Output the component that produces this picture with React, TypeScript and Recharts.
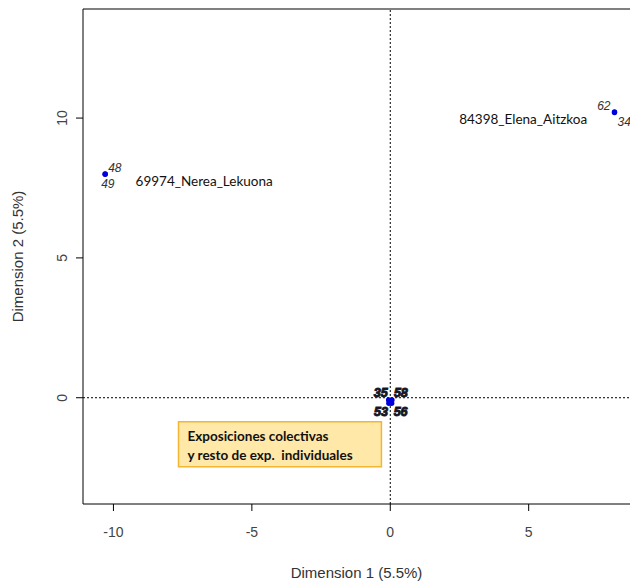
import {
  ScatterChart,
  Scatter,
  XAxis,
  YAxis,
  ReferenceLine,
  ReferenceArea,
  ReferenceDot,
} from "recharts";

// MCA individuals plot (factor map)
const pointIds = ["48", "49", "62", "34", "35", "58", "53", "56", "", ""];
const dim1 = [-10.3, -10.3, 8.1, 8.1, -0.06, 0.06, -0.05, 0.05, 0.0, 0.02];
const dim2 = [8.0, 7.99, 10.22, 10.2, -0.08, -0.08, -0.2, -0.2, -0.14, -0.1];

const xTicks = [-10, -5, 0, 5];
const yTicks = [0, 5, 10];
const xDomain = [-11.1, 8.66];
const yDomain = [-3.8, 13.9];

const artistNames = ["84398_Elena_Aitzkoa", "69974_Nerea_Lekuona"];
const artistX = [2.49, -9.2];
const artistY = [9.97, 7.76];

const boxLines = ["Exposiciones colectivas", "y resto de exp.  individuales"];
const boxX = [-7.65, -0.32];
const boxY = [-0.86, -2.47];

// label placement per point id: [dx, dy, anchor, cluster]
const labelStyle: Record<string, [number, number, string, boolean]> = {
  "48": [3, -2, "start", false],
  "49": [-4, 14, "start", false],
  "62": [-4, -2, "end", false],
  "34": [3, 14, "start", false],
  "35": [-1, -3, "end", true],
  "58": [2, -3, "start", true],
  "53": [-1, 13, "end", true],
  "56": [2, 13, "start", true],
};

const data = pointIds.map((id, i) => ({ id, x: dim1[i], y: dim2[i] }));

const PointShape = (props: any) => {
  const { cx, cy, payload } = props;
  const st = labelStyle[payload.id];
  return (
    <g>
      <circle cx={cx} cy={cy} r={2.7} fill="#0000dd" />
      {st && (
        <text
          x={cx + st[0]}
          y={cy + st[1]}
          textAnchor={st[2] as any}
          fontFamily="Liberation Sans, Arial, sans-serif"
          fontSize={st[3] ? 12.5 : 12}
          fontStyle="italic"
          fontWeight={st[3] ? "bold" : "normal"}
          fill={st[3] ? "#111" : "#333"}
          stroke={st[3] ? "#1a1a2a" : "none"}
          strokeWidth={st[3] ? 1 : 0}
        >
          {payload.id}
        </text>
      )}
    </g>
  );
};

const YTick = (props: any) => {
  const { x, y, payload } = props;
  return (
    <text
      x={x}
      y={y}
      transform={`rotate(-90 ${x} ${y})`}
      textAnchor="middle"
      fontFamily="Liberation Sans, Arial, sans-serif"
      fontSize={14}
      fill="#444"
    >
      {payload.value}
    </text>
  );
};

const YTitle = (props: any) => {
  const vb = props.viewBox;
  const cx = 23;
  const cy = vb.y + vb.height / 2;
  return (
    <text
      x={cx}
      y={cy}
      transform={`rotate(-90 ${cx} ${cy})`}
      textAnchor="middle"
      fontFamily="Liberation Sans, Arial, sans-serif"
      fontSize={15}
      fill="#333"
    >
      Dimension 2 (5.5%)
    </text>
  );
};

const BoxLabel = (props: any) => {
  const vb = props.viewBox;
  return (
    <text fontFamily="Lato, sans-serif" fontSize={13.5} fontWeight="bold" fill="#111">
      {boxLines.map((t, i) => (
        <tspan key={i} x={vb.x + 9} y={vb.y + 19 + i * 19} style={{ whiteSpace: "pre" }}>
          {t}
        </tspan>
      ))}
    </text>
  );
};

export default function App() {
  return (
    <div style={{ position: "absolute", left: 0, top: 0, width: 630, height: 584, background: "#fff" }}>
      <ScatterChart width={630} height={584} margin={{ top: 9, right: 0, bottom: 0, left: 0 }}>
        <XAxis
          type="number"
          dataKey="x"
          domain={xDomain}
          ticks={xTicks}
          allowDataOverflow
          height={80}
          tickSize={7}
          tickMargin={16}
          axisLine={{ stroke: "#000" }}
          tickLine={{ stroke: "#000" }}
          tick={{ fill: "#444", fontSize: 14, fontFamily: "Liberation Sans, Arial, sans-serif" }}
          label={{
            value: "Dimension 1 (5.5%)",
            position: "insideBottom",
            offset: 6,
            fill: "#333",
            fontSize: 15,
            fontFamily: "Liberation Sans, Arial, sans-serif",
          }}
        />
        <YAxis
          type="number"
          dataKey="y"
          domain={yDomain}
          ticks={yTicks}
          allowDataOverflow
          width={83}
          tickSize={7}
          tickMargin={9}
          axisLine={{ stroke: "#000" }}
          tickLine={{ stroke: "#000" }}
          tick={<YTick />}
          label={<YTitle />}
        />
        <ReferenceLine y={yDomain[1]} stroke="#000" />
        <ReferenceLine x={0} stroke="#000" strokeDasharray="2 2" />
        <ReferenceLine y={0} stroke="#000" strokeDasharray="2 2" />
        <ReferenceArea
          x1={boxX[0]}
          x2={boxX[1]}
          y1={boxY[0]}
          y2={boxY[1]}
          fill="#ffe8a8"
          fillOpacity={1}
          stroke="#f2b632"
          strokeWidth={1.5}
          label={<BoxLabel />}
        />
        {artistNames.map((n, i) => (
          <ReferenceDot
            key={n}
            x={artistX[i]}
            y={artistY[i]}
            r={0}
            fill="none"
            stroke="none"
            label={{
              value: n,
              position: "right",
              offset: 0,
              fill: "#111",
              fontSize: 13.5,
              fontFamily: "Lato, sans-serif",
            }}
          />
        ))}
        <Scatter data={data} shape={<PointShape />} isAnimationActive={false} />
      </ScatterChart>
    </div>
  );
}
